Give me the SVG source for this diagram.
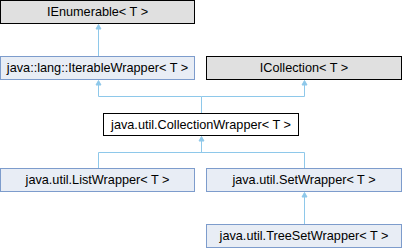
<svg xmlns="http://www.w3.org/2000/svg" width="402" height="248" viewBox="0 0 402 248">
<style>
.ext rect{fill:#e0e0e0;stroke:#000;stroke-width:1}
.lnk rect{fill:#e8edf5;stroke:#7d9ccc;stroke-width:1}
.cur rect{fill:#fff;stroke:#000;stroke-width:1}
text{font-family:"Liberation Sans",Arial,sans-serif;font-size:12.7px;fill:#000;text-anchor:middle}
#edges path{fill:none;stroke:#8ec8ea;stroke-width:1}
#edges polygon{fill:#8ec8ea;stroke:#8ec8ea;stroke-width:1}
</style>
<rect width="402" height="248" fill="#fff"/>
<g id="edges">
<path d="M98.5 56V28"/><polygon points="98.5,24.5 96,29 101,29"/>
<path d="M201.5 113V96.5H98.5V85"/><polygon points="98.5,80.5 96,85 101,85"/>
<path d="M201.5 96.5H304.5V85"/><polygon points="304.5,80.5 302,85 307,85"/>
<path d="M98.5 168V152.5H304.5V168"/><path d="M201.5 152.5V141"/><polygon points="201.5,136.5 199,141 204,141"/>
<path d="M304.5 224V197"/><polygon points="304.5,192.5 302,197 307,197"/>
</g>
<g id="n1" class="ext"><rect x="0.5" y="0.5" width="194" height="23"/><text x="97.5" y="15.5">IEnumerable&lt; T &gt;</text></g>
<g id="n2" class="lnk"><rect x="0.5" y="56.5" width="194" height="23"/><text x="97.5" y="71.5">java::lang::IterableWrapper&lt; T &gt;</text></g>
<g id="n3" class="ext"><rect x="206.5" y="56.5" width="195" height="23"/><text x="304" y="71.5">ICollection&lt; T &gt;</text></g>
<g id="n4" class="cur"><rect x="103.5" y="113.5" width="195" height="22"/><text x="201" y="128.5">java.util.CollectionWrapper&lt; T &gt;</text></g>
<g id="n5" class="lnk"><rect x="0.5" y="168.5" width="194" height="23"/><text x="97.5" y="183.5">java.util.ListWrapper&lt; T &gt;</text></g>
<g id="n6" class="lnk"><rect x="206.5" y="168.5" width="195" height="23"/><text x="304" y="183.5">java.util.SetWrapper&lt; T &gt;</text></g>
<g id="n7" class="lnk"><rect x="206.5" y="224.5" width="195" height="23"/><text x="304" y="239.5">java.util.TreeSetWrapper&lt; T &gt;</text></g>
</svg>
